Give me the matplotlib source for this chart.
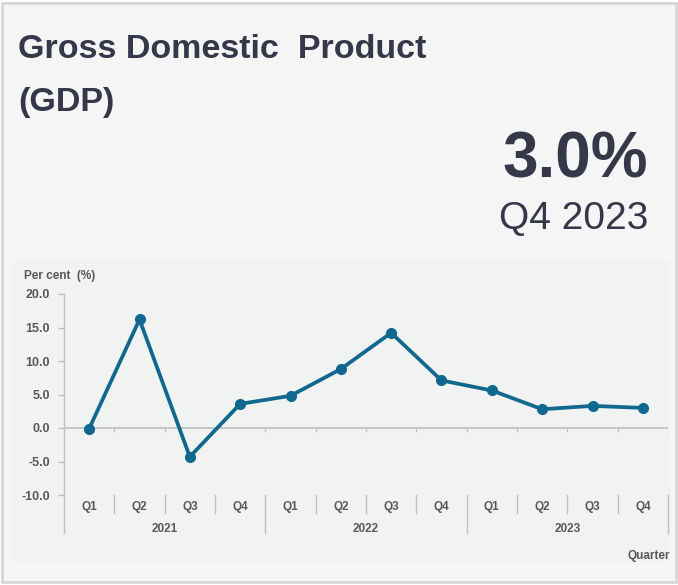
import matplotlib
matplotlib.use("Agg")
import matplotlib.pyplot as plt
from matplotlib.patches import Rectangle
from matplotlib.lines import Line2D

# Quarterly GDP growth, per cent
years = ["2021", "2022", "2023"]
quarters = ["Q1", "Q2", "Q3", "Q4"]
gdp_growth = [-0.1, 16.2, -4.3, 3.6, 4.8, 8.8, 14.2, 7.1, 5.6, 2.8, 3.3, 3.0]
y_ticks = [-10.0, -5.0, 0.0, 5.0, 10.0, 15.0, 20.0]
headline_value = "3.0%"
headline_period = "Q4 2023"

FONT = ["Liberation Sans", "DejaVu Sans"]
DARK = "#353849"
GREY = "#595959"
AXIS = "#bfbfbf"
LINE = "#11688f"

W, H = 678, 585
fig = plt.figure(figsize=(W / 100, H / 100), dpi=100, facecolor="white")


def fx(px):
    return px / W


def fy(py):
    return 1 - py / H


# card background and border
fig.patches.append(Rectangle((fx(2), fy(582)), fx(674), 579 / H,
                             transform=fig.transFigure, facecolor="#f5f5f5",
                             edgecolor="#d6d6d6", linewidth=2.0, zorder=0))
# chart panel
fig.patches.append(Rectangle((fx(12), fy(562)), fx(658), 302 / H,
                             transform=fig.transFigure, facecolor="#f1f2f2",
                             edgecolor="none", zorder=0.5))

# headline texts
fig.text(fx(18), fy(58), "Gross Domestic  Product", family=FONT,
         weight="bold", fontsize=24.5, color=DARK, va="baseline", ha="left")
fig.text(fx(18), fy(111), "(GDP)", family=FONT,
         weight="bold", fontsize=24.5, color=DARK, va="baseline", ha="left")
fig.text(fx(648), fy(177), headline_value, family=FONT,
         weight="bold", fontsize=46, color=DARK, va="baseline", ha="right")
fig.text(fx(648), fy(229), headline_period, family=FONT,
         fontsize=28, color=DARK, va="baseline", ha="right")

# plotting area
ax_left, ax_right, ax_top, ax_bottom = 64, 668, 294, 495
ax = fig.add_axes([fx(ax_left), fy(ax_bottom), (ax_right - ax_left) / W,
                   (ax_bottom - ax_top) / H])
ax.set_zorder(2)
ax.set_facecolor("none")
n = len(gdp_growth)
xs = [i + 0.5 for i in range(n)]
ax.set_xlim(0, n)
ax.set_ylim(-10, 20)

for side in ("top", "right", "bottom"):
    ax.spines[side].set_visible(False)
ax.spines["left"].set_color(AXIS)
ax.spines["left"].set_linewidth(1.0)

ax.set_yticks(y_ticks)
ax.set_yticklabels([f"{v:.1f}" for v in y_ticks])
ax.tick_params(axis="y", length=4, width=1, color=AXIS, pad=6,
               labelsize=9, labelcolor=GREY)
for lab in ax.get_yticklabels():
    lab.set_fontfamily(FONT)
    lab.set_fontweight("bold")
ax.set_xticks([])

# zero line with boundary ticks
ax.axhline(0, color=AXIS, lw=1.2, zorder=1)
ax.vlines(range(1, n + 1), -0.6, 0, color=AXIS, lw=1.0, zorder=1)

ax.plot(xs, gdp_growth, color=LINE, lw=2.7, marker="o", markersize=7,
        zorder=3, solid_joinstyle="round")

# hierarchical category axis below the plot
tr = ax.get_xaxis_transform()
ph = ax_bottom - ax_top
q_depth = -18 / ph
y_depth = -38 / ph
for b in range(0, n + 1):
    depth = y_depth if b % 4 == 0 else q_depth
    ax.add_line(Line2D([b, b], [0, depth], transform=tr, color=AXIS,
                       lw=1.0, clip_on=False))
for i, x in enumerate(xs):
    ax.text(x, -12 / ph, quarters[i % 4], transform=tr, ha="center",
            va="center", fontsize=8.5, family=FONT, weight="bold",
            color=GREY)
for k, yr in enumerate(years):
    ax.text(4 * k + 2, -34 / ph, yr, transform=tr, ha="center",
            va="center", fontsize=8.5, family=FONT, weight="bold",
            color=GREY)

fig.text(fx(24), fy(276), "Per cent  (%)", family=FONT, weight="bold",
         fontsize=8.5, color=GREY, va="center", ha="left")
fig.text(fx(670), fy(556), "Quarter", family=FONT, weight="bold",
         fontsize=8.5, color=GREY, va="center", ha="right")

fig.savefig("out.png", dpi=100, facecolor="white")
